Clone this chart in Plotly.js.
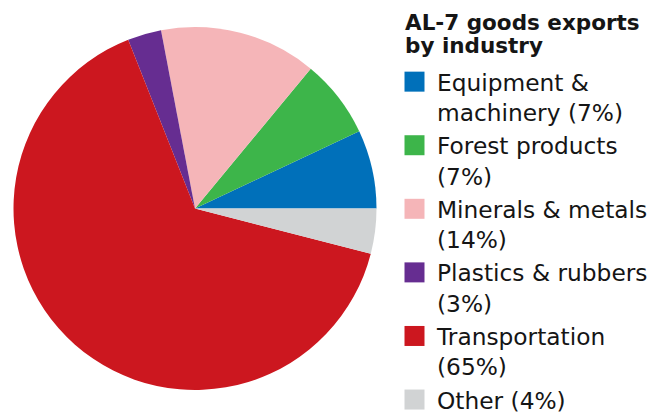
<!DOCTYPE html>
<html><head><meta charset="utf-8">
<script src="https://cdn.plot.ly/plotly-3.0.1.min.js"></script>
<style>html,body{margin:0;padding:0;background:#fff}#chart{width:669px;height:416px}</style>
</head><body><div id="chart"></div>
<script>
const categories = ["Equipment &<br>machinery", "Forest products<br>", "Minerals & metals<br>", "Plastics & rubbers<br>", "Transportation<br>", "Other"];
const shares = [7, 7, 14, 3, 65, 4];
const colors = ["#0070BA", "#3DB54A", "#F5B5B8", "#662D91", "#CC171F", "#D1D3D4"];
const chartTitle = "AL-7 goods exports<br>by industry";

const names = categories.map((c, i) => (c.endsWith("<br>") ? c : c + " ") + "(" + shares[i] + "%)");

const W = 669, H = 416;
const cx = 195, cy = 208.5, r = 181.5;
const FONT = "'DejaVu Sans', sans-serif";

const trace = {
  type: "pie",
  labels: names,
  values: shares,
  marker: {colors: colors, line: {width: 0}},
  sort: false,
  direction: "counterclockwise",
  rotation: 90 - 360 * shares[0] / 100,
  textinfo: "none",
  hoverinfo: "label",
  domain: {x: [(cx - r) / W, (cx + r) / W], y: [(H - cy - r) / H, (H - cy + r) / H]}
};

const layout = {
  width: W, height: H,
  margin: {l: 0, r: 0, t: 0, b: 0},
  paper_bgcolor: "#fff",
  font: {family: FONT, color: "#151515"},
  showlegend: true,
  legend: {
    x: 392 / W, xanchor: "left",
    y: 0, yanchor: "bottom",
    valign: "top",
    itemwidth: 35,
    tracegroupgap: 0,
    font: {size: 23.3, family: FONT, color: "#151515"},
    bgcolor: "rgba(0,0,0,0)",
    borderwidth: 0
  },
  annotations: [{
    text: "<b>" + chartTitle + "</b>",
    xref: "paper", yref: "paper",
    x: 403 / W, xanchor: "left",
    y: 1 - 8 / H, yanchor: "top",
    align: "left",
    showarrow: false,
    font: {size: 21.5, family: FONT, color: "#151515"}
  }]
};

Plotly.newPlot("chart", [trace], layout, {displayModeBar: false, staticPlot: true}).then(gd => {
  gd.querySelectorAll(".legendpoints path").forEach(p => p.setAttribute("d", "M10,10H-10V-10H10Z"));
  gd.querySelectorAll(".annotation-text tspan.line").forEach((t, i) => t.setAttribute("dy", (i * 1.08) + "em"));
  const lg = gd.querySelector("g.legend");
  if (lg) {
    const m = /translate\(\s*([-\d.]+)[ ,]+([-\d.]+)\s*\)/.exec(lg.getAttribute("transform") || "");
    if (m) lg.setAttribute("transform", "translate(" + m[1] + "," + (parseFloat(m[2]) + 6) + ")");
  }
});
</script></body></html>
